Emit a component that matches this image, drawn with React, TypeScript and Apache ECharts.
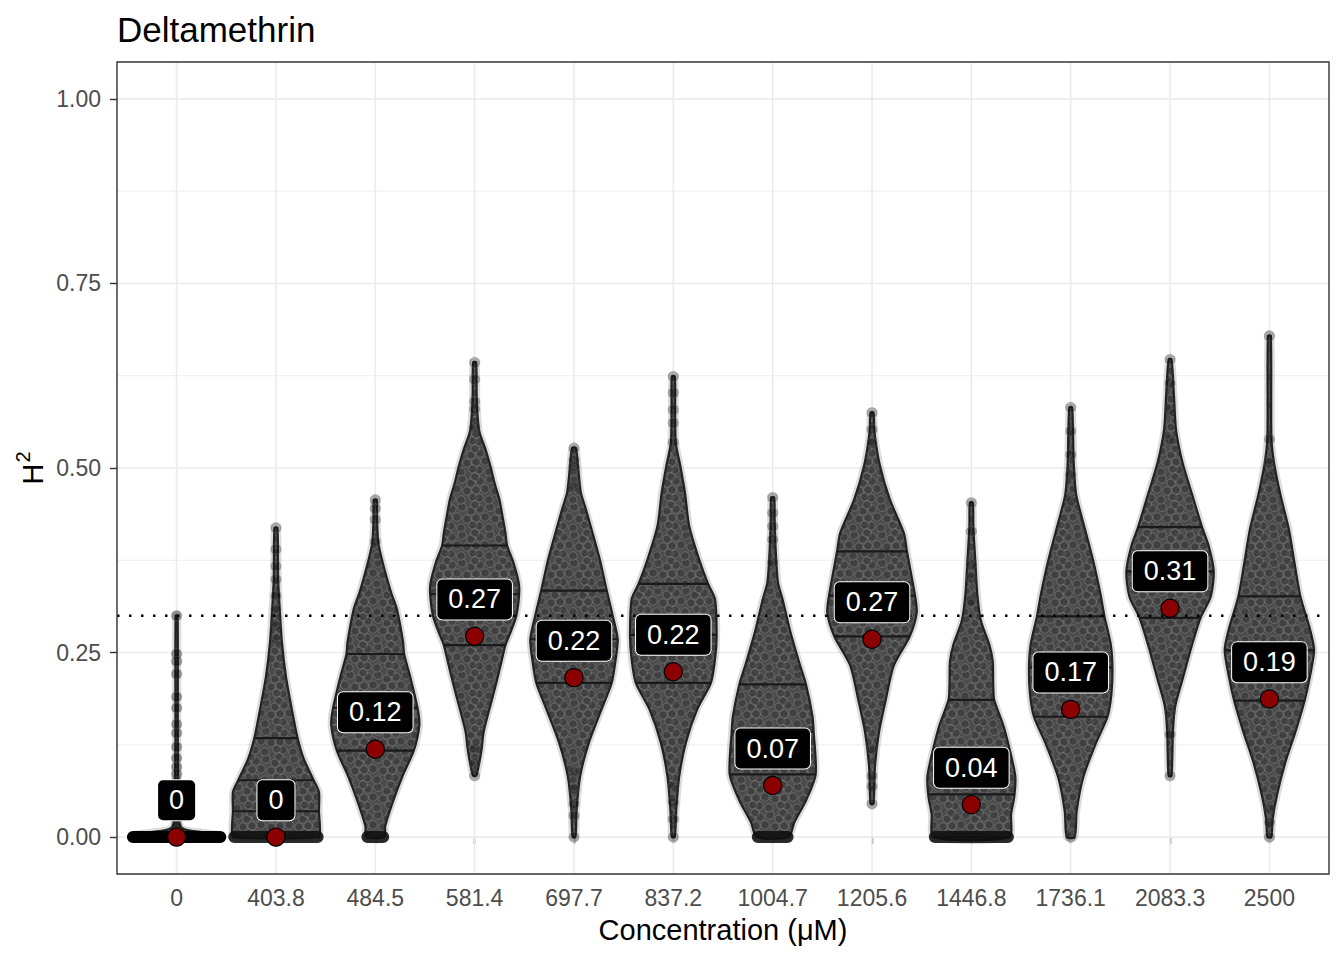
import React, { useEffect, useRef } from "react";
import * as echarts from "echarts";

// ---------- data ----------
const categories = ["0", "403.8", "484.5", "581.4", "697.7", "837.2", "1004.7", "1205.6", "1446.8", "1736.1", "2083.3", "2500"];

// heritability estimate per concentration (red dots)
const h2Values = [0, 0, 0.119, 0.272, 0.216, 0.224, 0.07, 0.268, 0.044, 0.173, 0.31, 0.187];

// 25 / 50 / 75 % quantiles of the permutation distributions
const quantiles = [
  [0, 0, 0],
  [0.035, 0.077, 0.134],
  [0.117, 0.175, 0.248],
  [0.26, 0.329, 0.395],
  [0.209, 0.268, 0.334],
  [0.209, 0.274, 0.343],
  [0.085, 0.143, 0.207],
  [0.272, 0.327, 0.387],
  [0, 0.058, 0.186],
  [0.163, 0.23, 0.299],
  [0.297, 0.36, 0.42],
  [0.185, 0.253, 0.326],
];

// violin outlines: [value, half-width in category units]
const violinShapes = [
  [[0, 0.45], [0.003, 0.44], [0.006, 0.3], [0.009, 0.12], [0.013, 0.05], [0.02, 0.028], [0.04, 0.02], [0.08, 0.015], [0.15, 0.012], [0.3, 0.01]],
  [[0, 0.43], [0.011, 0.443], [0.035, 0.433], [0.061, 0.433], [0.077, 0.38], [0.106, 0.28], [0.134, 0.218], [0.173, 0.16], [0.218, 0.1], [0.264, 0.06], [0.309, 0.038], [0.35, 0.022], [0.419, 0.015]],
  [[0, 0.09], [0.015, 0.1], [0.047, 0.175], [0.083, 0.275], [0.117, 0.387], [0.151, 0.443], [0.173, 0.428], [0.218, 0.35], [0.248, 0.29], [0.264, 0.28], [0.309, 0.217], [0.331, 0.16], [0.354, 0.11], [0.376, 0.067], [0.399, 0.03], [0.43, 0.018], [0.457, 0.015]],
  [[0.083, 0.015], [0.096, 0.04], [0.119, 0.07], [0.142, 0.09], [0.164, 0.13], [0.187, 0.176], [0.21, 0.22], [0.232, 0.26], [0.26, 0.31], [0.277, 0.36], [0.3, 0.42], [0.329, 0.448], [0.345, 0.443], [0.372, 0.39], [0.395, 0.327], [0.412, 0.31], [0.435, 0.28], [0.457, 0.25], [0.48, 0.2], [0.502, 0.16], [0.525, 0.11], [0.548, 0.05], [0.57, 0.03], [0.6, 0.02], [0.643, 0.015]],
  [[0, 0.015], [0.038, 0.027], [0.083, 0.063], [0.128, 0.15], [0.173, 0.277], [0.209, 0.38], [0.241, 0.42], [0.268, 0.44], [0.3, 0.39], [0.334, 0.33], [0.376, 0.26], [0.421, 0.168], [0.444, 0.12], [0.466, 0.07], [0.489, 0.05], [0.527, 0.02]],
  [[0, 0.015], [0.038, 0.03], [0.083, 0.06], [0.128, 0.126], [0.173, 0.24], [0.209, 0.378], [0.241, 0.42], [0.272, 0.436], [0.322, 0.42], [0.343, 0.35], [0.376, 0.26], [0.421, 0.16], [0.466, 0.118], [0.503, 0.07], [0.534, 0.025], [0.58, 0.018], [0.624, 0.015]],
  [[0, 0.16], [0.02, 0.218], [0.051, 0.34], [0.085, 0.433], [0.142, 0.413], [0.164, 0.4], [0.207, 0.335], [0.232, 0.277], [0.277, 0.18], [0.322, 0.1], [0.345, 0.053], [0.39, 0.03], [0.43, 0.02], [0.46, 0.015]],
  [[0.045, 0.015], [0.096, 0.03], [0.142, 0.07], [0.187, 0.14], [0.232, 0.218], [0.272, 0.38], [0.304, 0.45], [0.327, 0.433], [0.387, 0.352], [0.412, 0.32], [0.457, 0.18], [0.503, 0.08], [0.548, 0.025], [0.575, 0.015]],
  [[0, 0.378], [0.031, 0.4], [0.056, 0.433], [0.081, 0.443], [0.103, 0.413], [0.149, 0.327], [0.186, 0.23], [0.207, 0.22], [0.238, 0.215], [0.261, 0.18], [0.293, 0.096], [0.329, 0.06], [0.374, 0.04], [0.42, 0.02], [0.453, 0.015]],
  [[0, 0.04], [0.035, 0.06], [0.081, 0.126], [0.126, 0.25], [0.163, 0.37], [0.194, 0.41], [0.23, 0.42], [0.261, 0.403], [0.299, 0.34], [0.329, 0.3], [0.374, 0.227], [0.419, 0.14], [0.464, 0.055], [0.509, 0.03], [0.582, 0.015]],
  [[0.083, 0.015], [0.146, 0.03], [0.178, 0.053], [0.214, 0.126], [0.259, 0.218], [0.297, 0.307], [0.326, 0.41], [0.36, 0.44], [0.394, 0.39], [0.42, 0.322], [0.462, 0.227], [0.507, 0.126], [0.552, 0.06], [0.597, 0.04], [0.647, 0.015]],
  [[0, 0.02], [0.024, 0.033], [0.056, 0.075], [0.101, 0.16], [0.146, 0.27], [0.185, 0.355], [0.214, 0.403], [0.253, 0.45], [0.281, 0.41], [0.326, 0.312], [0.372, 0.252], [0.417, 0.196], [0.462, 0.114], [0.507, 0.047], [0.543, 0.02], [0.679, 0.015]],
];

// isolated points visible in the thin tails
const tailPoints = [
  [0.3, 0.248, 0.238, 0.221, 0.19, 0.175, 0.153, 0.141, 0.122, 0.107, 0.095, 0.085, 0.075, 0.065, 0.055, 0.045, 0.035, 0.025, 0.015],
  [0.419, 0.39, 0.367, 0.349, 0.327, 0.309, 0.286, 0.268],
  [0.457, 0.445, 0.43, 0.4],
  [0.643, 0.62, 0.59, 0.58, 0.555, 0.12, 0.1, 0.083],
  [0.527, 0.511, 0.502, 0.475, 0.088, 0.065, 0.045, 0.029, 0],
  [0.624, 0.602, 0.579, 0.561, 0.535, 0.069, 0.047, 0.024, 0],
  [0.46, 0.439, 0.421, 0.403, 0.372],
  [0.575, 0.552, 0.534, 0.119, 0.083, 0.069, 0.045],
  [0.453, 0.414, 0.369, 0.351, 0.32],
  [0.582, 0.55, 0.518, 0.491, 0.455, 0.027, 0],
  [0.647, 0.615, 0.579, 0.539, 0.169, 0.139, 0.083],
  [0.679, 0.539, 0.507, 0.489, 0.038, 0.02, 0],
];

const yTicks = [0, 0.25, 0.5, 0.75, 1];
const yMinorTicks = [0.125, 0.375, 0.625, 0.875];
const threshold = 0.3;
const labelNudge = 0.05;

const titleText = "Deltamethrin";
const xTitle = "Concentration (μM)";
const yTitleBase = "H";
const yTitleSup = "2";

const FONT = "'Liberation Sans', Arial, Helvetica, sans-serif";

function widthAt(shape: number[][], v: number): number {
  if (v <= shape[0][0]) return shape[0][1];
  for (let k = 1; k < shape.length; k++) {
    const [v1, w1] = shape[k];
    const [v0, w0] = shape[k - 1];
    if (v <= v1) return w0 + ((w1 - w0) * (v - v0)) / (v1 - v0 || 1);
  }
  return shape[shape.length - 1][1];
}

// speckled texture imitating the dense cloud of translucent jittered points
function makeTexture(): any {
  const size = 28;
  const c = document.createElement("canvas");
  c.width = size;
  c.height = size;
  const ctx = c.getContext("2d");
  if (!ctx) return "#505050";
  ctx.fillStyle = "#4b4b4b";
  ctx.fillRect(0, 0, size, size);
  const spots = [
    [4, 5], [14, 3], [23, 7], [9, 13], [19, 15], [3, 22], [13, 24], [25, 21], [27, 1], [0, 14],
  ];
  for (const [x, y] of spots) {
    for (const dx of [-size, 0, size]) {
      for (const dy of [-size, 0, size]) {
        ctx.beginPath();
        ctx.arc(x + dx, y + dy, 4.2, 0, Math.PI * 2);
        ctx.fillStyle = "rgba(30,30,30,0.25)";
        ctx.fill();
        ctx.lineWidth = 1;
        ctx.strokeStyle = "rgba(165,165,165,0.38)";
        ctx.stroke();
      }
    }
  }
  return { image: c, repeat: "repeat", imageWidth: size, imageHeight: size };
}

export default function App() {
  const ref = useRef<HTMLDivElement>(null);

  useEffect(() => {
    document.body.style.margin = "0";
    if (!ref.current) return;
    const chart = echarts.init(ref.current, undefined, { renderer: "svg" });
    const xTicks = categories.map((_, i) => i + 1);
    const texture = makeTexture();

    const gridData: number[][] = [];
    yTicks.forEach((v) => gridData.push([v, 0]));
    yMinorTicks.forEach((v) => gridData.push([v, 1]));
    xTicks.forEach((v) => gridData.push([v, 2]));

    const option: any = {
      animation: false,
      backgroundColor: "#ffffff",
      grid: { left: 117, right: 15, top: 62, bottom: 86, containLabel: false },
      xAxis: {
        type: "value",
        min: 0.4,
        max: 12.6,
        axisLine: { show: false },
        splitLine: { show: false },
        axisTick: { show: true, customValues: xTicks, length: 7, lineStyle: { color: "#333333", width: 1.4 } },
        axisLabel: {
          customValues: xTicks,
          formatter: (v: number) => categories[Math.round(v) - 1] ?? "",
          fontSize: 23,
          fontFamily: FONT,
          color: "#4d4d4d",
          margin: 12,
        },
      },
      yAxis: {
        type: "value",
        min: -0.05,
        max: 1.05,
        axisLine: { show: false },
        splitLine: { show: false },
        axisTick: { show: true, customValues: yTicks, length: 7, lineStyle: { color: "#333333", width: 1.4 } },
        axisLabel: {
          customValues: yTicks,
          formatter: (v: number) => v.toFixed(2),
          fontSize: 23,
          fontFamily: FONT,
          color: "#4d4d4d",
          margin: 16,
        },
      },
      graphic: [
        {
          type: "text",
          x: 117,
          y: 29,
          z: 100,
          style: { text: titleText, font: `35px ${FONT}`, fill: "#000", align: "left", verticalAlign: "middle" },
        },
        {
          type: "text",
          x: 723,
          y: 930,
          z: 100,
          style: { text: xTitle, font: `29px ${FONT}`, fill: "#000", align: "center", verticalAlign: "middle" },
        },
        {
          type: "text",
          x: 30,
          y: 468,
          rotation: Math.PI / 2,
          z: 100,
          style: {
            text: `{h|${yTitleBase}}{s|${yTitleSup}}`,
            align: "center",
            verticalAlign: "middle",
            rich: {
              h: { fontSize: 29, fontFamily: FONT, fill: "#000", lineHeight: 34, verticalAlign: "bottom" },
              s: { fontSize: 20, fontFamily: FONT, fill: "#000", lineHeight: 34, verticalAlign: "top", padding: [0, 0, 0, 1] },
            },
          },
        },
        {
          type: "rect",
          shape: { x: 117, y: 62, width: 1212, height: 812 },
          z: 100,
          style: { fill: "none", stroke: "#333333", lineWidth: 1.4 },
        },
      ],
      series: [
        {
          type: "custom",
          z: 1,
          silent: true,
          data: gridData,
          renderItem: (params: any, api: any) => {
            const cs = params.coordSys;
            const v = api.value(0);
            const kind = api.value(1);
            if (kind === 2) {
              const x = api.coord([v, 0])[0];
              return { type: "line", shape: { x1: x, y1: cs.y, x2: x, y2: cs.y + cs.height }, style: { stroke: "#ebebeb", lineWidth: 1.6 } };
            }
            const y = api.coord([1, v])[1];
            return {
              type: "line",
              shape: { x1: cs.x, y1: y, x2: cs.x + cs.width, y2: y },
              style: { stroke: "#ebebeb", lineWidth: kind === 0 ? 1.6 : 0.9 },
            };
          },
        },
        {
          type: "custom",
          z: 2,
          silent: true,
          data: categories.map((_, i) => [i + 1, h2Values[i]]),
          renderItem: (params: any, api: any) => {
            const i = params.dataIndex;
            const cx = i + 1;
            const shape = violinShapes[i];
            const left = shape.map(([v, w]) => api.coord([cx - w, v]));
            const right = shape.slice().reverse().map(([v, w]) => api.coord([cx + w, v]));
            const pts = left.concat(right);
            const children: any[] = [];
            children.push({ type: "polygon", shape: { points: pts, smooth: 0.25 }, style: { fill: "none", stroke: "rgba(60,60,60,0.18)", lineWidth: 7 } });
            children.push({ type: "polygon", shape: { points: pts, smooth: 0.25 }, style: { fill: texture, stroke: "#222222", lineWidth: 2.2 } });
            quantiles[i].forEach((q) => {
              const w = widthAt(shape, q);
              if (w < 0.03) return;
              const p1 = api.coord([cx - w, q]);
              const p2 = api.coord([cx + w, q]);
              children.push({ type: "line", shape: { x1: p1[0], y1: p1[1], x2: p2[0], y2: p2[1] }, style: { stroke: "#1a1a1a", lineWidth: 2.2 } });
            });
            // points piled up at zero
            if (shape[0][0] === 0 && shape[0][1] > 0.05) {
              const a = api.coord([cx - shape[0][1], 0]);
              const b = api.coord([cx + shape[0][1], 0]);
              children.push({
                type: "rect",
                shape: { x: a[0] - 5, y: a[1] - 6, width: b[0] - a[0] + 10, height: 12, r: 6 },
                style: { fill: i === 0 ? "#000000" : "rgba(15,15,15,0.88)" },
              });
            }
            tailPoints[i].forEach((v) => {
              const p = api.coord([cx, v]);
              children.push({
                type: "circle",
                shape: { cx: p[0], cy: p[1], r: 5 },
                style: { fill: i === 0 ? "rgba(0,0,0,0.35)" : "rgba(0,0,0,0.22)", stroke: "rgba(90,90,90,0.35)", lineWidth: 1.4 },
              });
            });
            return { type: "group", children };
          },
        },
        {
          type: "custom",
          z: 3,
          silent: true,
          data: [[threshold]],
          renderItem: (params: any, api: any) => {
            const cs = params.coordSys;
            const y = api.coord([1, api.value(0)])[1];
            return {
              type: "line",
              shape: { x1: cs.x, y1: y, x2: cs.x + cs.width, y2: y },
              style: { stroke: "#000000", lineWidth: 2.5, lineDash: [2.5, 9.5] },
            };
          },
        },
        {
          type: "custom",
          z: 4,
          silent: true,
          data: categories.map((_, i) => [i + 1, h2Values[i]]),
          renderItem: (params: any, api: any) => {
            const i = params.dataIndex;
            const cx = i + 1;
            const h = h2Values[i];
            const p = api.coord([cx, h]);
            const lp = api.coord([cx, h + labelNudge]);
            const txt = h === 0 ? "0" : h.toFixed(2);
            return {
              type: "group",
              children: [
                { type: "circle", shape: { cx: p[0], cy: p[1], r: 9 }, style: { fill: "#8b0000", stroke: "#000000", lineWidth: 1.2 } },
                {
                  type: "text",
                  x: lp[0],
                  y: lp[1],
                  style: {
                    text: txt,
                    font: `27px ${FONT}`,
                    fill: "#ffffff",
                    align: "center",
                    verticalAlign: "middle",
                    backgroundColor: "#000000",
                    borderColor: "#ffffff",
                    borderWidth: 1,
                    borderRadius: 5,
                    padding: [6, 11, 6, 11],
                    lineHeight: 28,
                  },
                },
              ],
            };
          },
        },
      ],
    };

    chart.setOption(option);
    return () => chart.dispose();
  }, []);

  return <div ref={ref} style={{ width: 1344, height: 960 }} />;
}
